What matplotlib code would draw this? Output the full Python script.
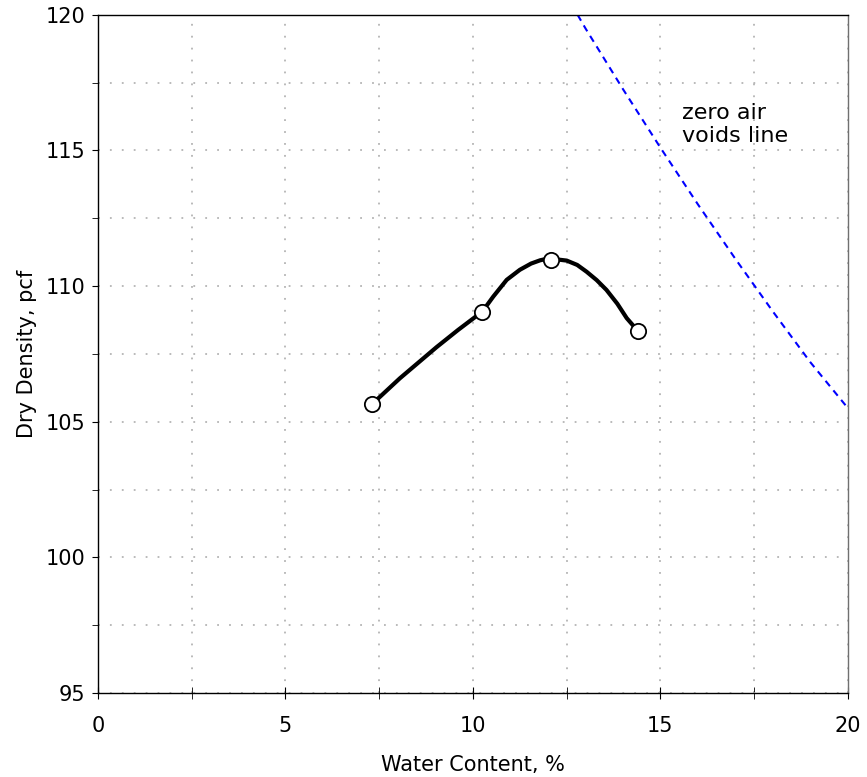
import matplotlib.pyplot as plt
from matplotlib.ticker import MultipleLocator

# compaction test points
water_content = [7.31, 10.25, 12.07, 14.39]
dry_density = [105.65, 109.06, 110.97, 108.36]

# fitted compaction curve
curve_w = [7.31, 8.05, 9.03, 9.6, 10.25, 10.54, 10.9, 11.25, 11.55, 11.79, 11.95,
           12.2, 12.5, 12.78, 13.03, 13.3, 13.56, 13.85, 14.1, 14.39]
curve_d = [105.65, 106.6, 107.75, 108.38, 109.06, 109.61, 110.23, 110.6, 110.83,
           110.95, 111.0, 110.99, 110.94, 110.78, 110.53, 110.22, 109.86, 109.35,
           108.82, 108.36]

# zero air voids line
zav_w = [12.79, 13, 14, 15, 16, 17, 18, 19, 20]
zav_d = [120.0, 119.5, 117.26, 115.1, 113.01, 111.0, 109.06, 107.19, 105.5]

plt.rcParams['font.family'] = ['DejaVu Sans']

fig = plt.figure(figsize=(8.67, 7.77), dpi=100)
ax = fig.add_axes([0.113, 0.108, 0.865, 0.873])

ax.plot(zav_w, zav_d, color='blue', linestyle=(0, (3.3, 2.6)), linewidth=1.5)
ax.plot(curve_w, curve_d, color='black', linewidth=3, solid_capstyle='round',
        solid_joinstyle='round')
ax.plot(water_content, dry_density, 'o', markersize=11, markerfacecolor='white',
        markeredgecolor='black', markeredgewidth=1.3, zorder=5)

ax.text(15.57, 116.75, 'zero air\nvoids line', fontsize=16, va='top', ha='left',
        linespacing=1.2)

ax.set_xlim(0, 20)
ax.set_ylim(95, 120)
ax.xaxis.set_major_locator(MultipleLocator(5))
ax.xaxis.set_minor_locator(MultipleLocator(2.5))
ax.yaxis.set_major_locator(MultipleLocator(5))
ax.yaxis.set_minor_locator(MultipleLocator(2.5))
ax.grid(True, which='both', color='#b4b4b4', linestyle=(0, (1, 5.6)), linewidth=1.3)
ax.tick_params(axis='x', which='both', direction='inout', length=9, labelsize=15, pad=12)
ax.tick_params(axis='y', which='both', direction='out', length=4, labelsize=15, pad=5)
for s in ax.spines.values():
    s.set_linewidth(1)
    s.set_zorder(3)
ax.spines['right'].set_color('#707070')

ax.set_xlabel('Water Content, %', fontsize=15, labelpad=14)
ax.set_ylabel('Dry Density, pcf', fontsize=15, labelpad=6)

fig.savefig('out.png', dpi=100)
